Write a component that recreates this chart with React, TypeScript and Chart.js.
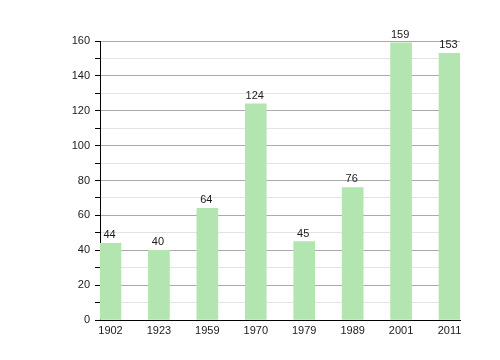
import React, { useEffect, useRef } from "react";
import { Chart, registerables } from "chart.js";

Chart.register(...registerables);

const years = ["1902", "1923", "1959", "1970", "1979", "1989", "2001", "2011"];
const values = [44, 40, 64, 124, 45, 76, 159, 153];
const yTickMax = 160;

const barLabels = {
  id: "barLabels",
  afterDatasetsDraw(chart: any) {
    const ctx = chart.ctx;
    const meta = chart.getDatasetMeta(0);
    ctx.save();
    ctx.font = "11px 'Liberation Sans', Arial, sans-serif";
    ctx.fillStyle = "#1a1a1a";
    ctx.textAlign = "center";
    ctx.textBaseline = "alphabetic";
    meta.data.forEach((el: any, i: number) => {
      ctx.fillText(String(values[i]), el.x - 1, el.y - 5);
    });
    ctx.restore();
  },
};

export default function App() {
  const ref = useRef<HTMLCanvasElement | null>(null);
  useEffect(() => {
    if (!ref.current) return;
    const font = { family: "'Liberation Sans', Arial, sans-serif", size: 11 };
    const chart = new Chart(ref.current, {
      type: "bar",
      data: {
        datasets: [
          {
            data: values.map((v, i) => ({ x: i, y: v })),
            backgroundColor: "#b3e5b1",
            borderWidth: 0,
            barThickness: 21,
          },
        ],
      },
      options: {
        animation: false,
        responsive: false,
        devicePixelRatio: 1,
        layout: { padding: { left: 0, right: 40, top: 41, bottom: 0 } },
        plugins: { legend: { display: false }, tooltip: { enabled: false } },
        scales: {
          x: {
            type: "linear",
            offset: false,
            min: -0.2168,
            max: 7.2168,
            afterBuildTicks: (scale: any) => {
              scale.ticks = years.map((_, i) => ({ value: i }));
            },
            afterFit: (scale: any) => {
              scale.height = 40;
            },
            grid: { display: false, drawTicks: false, offset: false },
            border: { display: true, color: "#000", width: 1 },
            ticks: {
              color: "#1a1a1a",
              font,
              padding: 4,
              maxRotation: 0,
              autoSkip: false,
              callback: (v: any) => years[Math.round(Number(v))] ?? "",
            },
          },
          y: {
            type: "linear",
            min: 0,
            max: yTickMax,
            afterFit: (scale: any) => {
              scale.width = 100;
            },
            grid: {
              color: (c: any) =>
                c.tick && c.tick.value % 20 === 0 ? "#aaaaaa" : "#e3e3e3",
              tickColor: "#000",
              tickLength: 5,
              drawTicks: true,
            },
            border: { display: true, color: "#000", width: 1 },
            ticks: {
              stepSize: 10,
              color: "#1a1a1a",
              font,
              padding: 5,
              callback: (v: any) => (Number(v) % 20 === 0 ? String(v) : ""),
            },
          },
        },
      },
      plugins: [barLabels],
    });
    return () => chart.destroy();
  }, []);
  return (
    <div style={{ position: "fixed", left: 0, top: 0, width: 500, height: 360, background: "#fff" }}>
      <canvas ref={ref} width={500} height={360} style={{ width: 500, height: 360 }} />
    </div>
  );
}
